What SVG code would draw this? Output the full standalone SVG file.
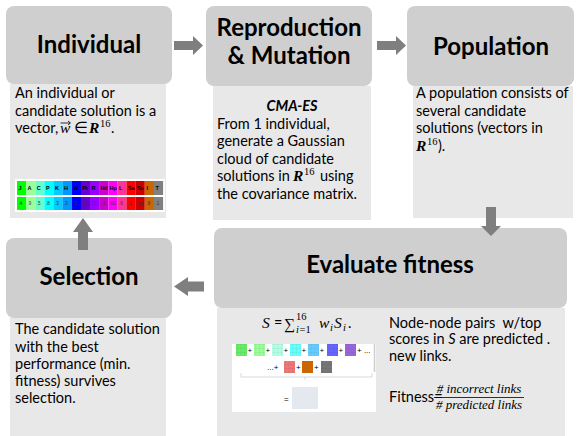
<svg xmlns="http://www.w3.org/2000/svg" width="581" height="436" viewBox="0 0 581 436">
<defs>
<style>
.hdr{fill:#cfcfcf}
.body{fill:#e8e8e8}
.title{font-family:Lato,"Liberation Sans",sans-serif;font-weight:bold;font-size:24px;fill:#000;text-anchor:middle}
.t{font-family:Lato,"Liberation Sans",sans-serif;font-size:14.5px;fill:#000}
.m{font-family:"Liberation Serif",serif;font-style:italic;font-size:15.5px}
.mr{font-family:"Liberation Serif",serif;font-style:normal;font-size:15.5px}
.mb{font-family:"Liberation Serif",serif;font-style:italic;font-weight:bold;font-size:15.5px}
.sup{font-family:"Liberation Serif",serif;font-style:normal;font-size:10.5px}
.subi{font-family:"Liberation Serif",serif;font-style:italic;font-size:10.5px}
.arrow{fill:#7f7f7f}
.lbl{font-family:"Liberation Sans",sans-serif;font-weight:bold;font-size:5.5px;fill:#000}
.val{font-family:"Liberation Sans",sans-serif;font-size:4.5px;fill:#333}
.pl{font-family:"Liberation Sans",sans-serif;font-size:8px;fill:#000}
.frac{font-family:"Liberation Serif",serif;font-style:italic;font-size:13px;fill:#000;text-anchor:middle}
</style>
<pattern id="grid" width="3.7" height="4" patternUnits="userSpaceOnUse">
<path d="M0 0H3.7M0 0V4" stroke="#000" stroke-opacity="0.15" stroke-width="0.6" fill="none"/>
</pattern>
</defs>

<g id="individual">
<rect class="hdr" x="6" y="6" width="166" height="78" rx="8"/>
<rect class="body" x="10" y="84" width="156" height="134"/>
<text class="title" x="89" y="53">Individual</text>
<text class="t" x="15" y="98">An individual or</text>
<text class="t" x="15" y="116">candidate solution is a</text>
<text class="t" x="15" y="133">vector,</text>
<text class="m" x="60" y="133">w</text>
<text class="mr" x="74" y="133">∈</text>
<text class="mb" x="89" y="133">R</text>
<text class="sup" x="100" y="127">16</text>
<text class="t" x="111" y="133">.</text>
<path d="M60.5 123H70M68 121L70.5 123L68 125" stroke="#000" stroke-width="0.8" fill="none"/>
<rect x="15" y="179" width="150" height="33" fill="#fff"/>
<g>
<rect x="17" y="181" width="9.2" height="14" fill="#00ff00"/><rect x="17" y="197" width="9.2" height="13" fill="#00ff00"/>
<rect x="26.1" y="181" width="9.2" height="14" fill="#99ff99"/><rect x="26.1" y="197" width="9.2" height="13" fill="#99ff99"/>
<rect x="35.3" y="181" width="9.2" height="14" fill="#66ffcc"/><rect x="35.3" y="197" width="9.2" height="13" fill="#66ffcc"/>
<rect x="44.4" y="181" width="9.2" height="14" fill="#00ffff"/><rect x="44.4" y="197" width="9.2" height="13" fill="#00ffff"/>
<rect x="53.5" y="181" width="9.2" height="14" fill="#00ccff"/><rect x="53.5" y="197" width="9.2" height="13" fill="#00ccff"/>
<rect x="62.6" y="181" width="9.2" height="14" fill="#0099ff"/><rect x="62.6" y="197" width="9.2" height="13" fill="#0099ff"/>
<rect x="71.8" y="181" width="9.2" height="14" fill="#0000ff"/><rect x="71.8" y="197" width="9.2" height="13" fill="#0000ff"/>
<rect x="80.9" y="181" width="9.2" height="14" fill="#6600cc"/><rect x="80.9" y="197" width="9.2" height="13" fill="#6600cc"/>
<rect x="90" y="181" width="9.2" height="14" fill="#9900ff"/><rect x="90" y="197" width="9.2" height="13" fill="#9900ff"/>
<rect x="99.1" y="181" width="9.2" height="14" fill="#cc00cc"/><rect x="99.1" y="197" width="9.2" height="13" fill="#cc00cc"/>
<rect x="108.3" y="181" width="9.2" height="14" fill="#ff00ff"/><rect x="108.3" y="197" width="9.2" height="13" fill="#ff00ff"/>
<rect x="117.4" y="181" width="9.2" height="14" fill="#ff3399"/><rect x="117.4" y="197" width="9.2" height="13" fill="#ff3399"/>
<rect x="126.5" y="181" width="9.2" height="14" fill="#ff0000"/><rect x="126.5" y="197" width="9.2" height="13" fill="#ff0000"/>
<rect x="135.6" y="181" width="9.2" height="14" fill="#cc0000"/><rect x="135.6" y="197" width="9.2" height="13" fill="#cc0000"/>
<rect x="144.8" y="181" width="9.2" height="14" fill="#cc6600"/><rect x="144.8" y="197" width="9.2" height="13" fill="#cc6600"/>
<rect x="153.9" y="181" width="9.2" height="14" fill="#808080"/><rect x="153.9" y="197" width="9.2" height="13" fill="#808080"/>
</g>
<text class="lbl" y="190"><tspan x="18.5">J</tspan><tspan x="27.6">A</tspan><tspan x="36.8">C</tspan><tspan x="45.9">P</tspan><tspan x="55">K</tspan><tspan x="64.1">H</tspan><tspan x="73.3">W</tspan><tspan x="82.2">Pr</tspan><tspan x="91.5">R</tspan><tspan x="100.4">Hd</tspan><tspan x="109.6">Hp</tspan><tspan x="118.9">L</tspan><tspan x="127.8">Sa</tspan><tspan x="136.9">So</tspan><tspan x="146.5">I</tspan><tspan x="155.4">T</tspan></text>
<text class="val" y="205"><tspan x="18.5">.4</tspan><tspan x="27.6">.9</tspan><tspan x="36.8">.5</tspan><tspan x="45.9">.8</tspan><tspan x="55">.3</tspan><tspan x="64.1">.3</tspan><tspan x="73.3">.2</tspan><tspan x="82.2">.6</tspan><tspan x="91.5">.7</tspan><tspan x="100.4">-.1</tspan><tspan x="109.6">.01</tspan><tspan x="118.9">.6</tspan><tspan x="127.8">.3</tspan><tspan x="136.9">.03</tspan><tspan x="146.5">.8</tspan><tspan x="155.4">.1</tspan></text>
</g>

<g id="reproduction">
<rect class="hdr" x="206" y="6" width="166" height="80" rx="8"/>
<rect class="body" x="213" y="86" width="158" height="134"/>
<text class="title" x="289" y="36">Reproduction</text>
<text class="title" x="289" y="64">&amp; Mutation</text>
<text class="t" x="292" y="111" text-anchor="middle" font-weight="bold" font-style="italic">CMA-ES</text>
<text class="t" x="217" y="129">From 1 individual,</text>
<text class="t" x="217" y="146">generate a Gaussian</text>
<text class="t" x="217" y="164">cloud of candidate</text>
<text class="t" x="217" y="181">solutions in</text>
<text class="mb" x="293" y="181">R</text>
<text class="sup" x="304" y="175">16</text>
<text class="t" x="320" y="181">using</text>
<text class="t" x="217" y="199">the covariance matrix.</text>
</g>

<g id="population">
<rect class="hdr" x="407" y="6" width="167" height="80" rx="8"/>
<rect class="body" x="413" y="86" width="160" height="132"/>
<text class="title" x="491" y="55">Population</text>
<text class="t" x="416" y="98">A population consists of</text>
<text class="t" x="416" y="116">several candidate</text>
<text class="t" x="416" y="133">solutions (vectors in</text>
<text class="mb" x="416" y="151">R</text>
<text class="sup" x="427" y="145">16</text>
<text class="t" x="438" y="151">).</text>
</g>

<g id="evaluate">
<rect class="hdr" x="214" y="228" width="353" height="80" rx="8"/>
<rect class="body" x="217" y="308" width="348" height="128"/>
<text class="title" x="390" y="273">Evaluate fitness</text>
<text class="m" x="262" y="328">S</text>
<text class="t" x="274" y="328">=</text>
<text class="mr" x="284" y="329" font-size="18px">∑</text>
<text class="sup" x="296" y="320">16</text>
<text class="subi" x="296" y="333">i</text>
<text class="sup" x="299.5" y="333">=1</text>
<text class="m" x="319" y="328">w</text>
<text class="subi" x="330" y="331">i</text>
<text class="m" x="334" y="328">S</text>
<text class="subi" x="343" y="331">i</text>
<text class="t" x="348" y="328">.</text>
<rect x="232" y="344" width="144" height="68" fill="#fff"/>
<g>
<rect x="236" y="344" width="11" height="12" fill="#66ee66"/>
<rect x="254" y="344" width="11" height="12" fill="#99ff99"/>
<rect x="272" y="344" width="11" height="12" fill="#b3ffe6"/>
<rect x="290" y="344" width="11" height="12" fill="#66ffff"/>
<rect x="308" y="344" width="11" height="12" fill="#66ccff"/>
<rect x="327" y="344" width="11" height="12" fill="#6666ff"/>
<rect x="345" y="344" width="11" height="12" fill="#9966dd"/>
<rect x="284" y="361" width="11" height="12" fill="#ee7777"/>
<rect x="302" y="361" width="11" height="12" fill="#cc6600"/>
<rect x="321" y="361" width="11" height="12" fill="#777777"/>
<rect x="236" y="344" width="11" height="12" fill="url(#grid)"/>
<rect x="254" y="344" width="11" height="12" fill="url(#grid)"/>
<rect x="272" y="344" width="11" height="12" fill="url(#grid)"/>
<rect x="290" y="344" width="11" height="12" fill="url(#grid)"/>
<rect x="308" y="344" width="11" height="12" fill="url(#grid)"/>
<rect x="327" y="344" width="11" height="12" fill="url(#grid)"/>
<rect x="345" y="344" width="11" height="12" fill="url(#grid)"/>
<rect x="284" y="361" width="11" height="12" fill="url(#grid)"/>
<rect x="321" y="361" width="11" height="12" fill="url(#grid)"/>
</g>
<text class="pl" y="353"><tspan x="247.5">+</tspan><tspan x="265.5">+</tspan><tspan x="283.5">+</tspan><tspan x="301.5">+</tspan><tspan x="319.5">+</tspan><tspan x="338.5">+</tspan><tspan x="357">+ ...</tspan></text>
<text class="pl" y="370"><tspan x="267">...+</tspan><tspan x="296">+</tspan><tspan x="314">+</tspan></text>
<path d="M374.5 344V372" stroke="#ccc" stroke-width="1.5"/>
<path d="M241 373V377H372V373M305 377V380" stroke="#c0c8d4" stroke-width="0.7" fill="none"/>
<text class="pl" x="284" y="402" font-size="7">=</text>
<rect x="292" y="387" width="26" height="22" fill="#e4e9f0"/>
<text class="t" x="389" y="328" style="white-space:pre">Node-node pairs  w/top</text>
<text class="t" x="389" y="344" style="white-space:pre">scores in <tspan font-style="italic">S</tspan> are predicted .</text>
<text class="t" x="389" y="361">new links.</text>
<text class="t" x="389" y="402">Fitness=</text>
<text class="frac" x="479" y="393"># incorrect links</text>
<path d="M434 397.5H524" stroke="#000" stroke-width="0.8"/>
<text class="frac" x="479" y="409"># predicted links</text>
</g>

<g id="selection">
<rect class="hdr" x="6" y="238" width="166" height="80" rx="8"/>
<rect class="body" x="10" y="318" width="156" height="118"/>
<text class="title" x="89" y="285">Selection</text>
<text class="t" x="15" y="334">The candidate solution</text>
<text class="t" x="15" y="352">with the best</text>
<text class="t" x="15" y="369">performance (min.</text>
<text class="t" x="15" y="386">fitness) survives</text>
<text class="t" x="15" y="403">selection.</text>
</g>

<g id="connectors">
<polygon class="arrow" points="174,41 193,41 193,36 203,45.5 193,55 193,50 174,50"/>
<polygon class="arrow" points="377,41 396,41 396,36 406,45.5 396,55 396,50 377,50"/>
<polygon class="arrow" points="486,207 496,207 496,226 501,226 491,236 481,226 486,226"/>
<polygon class="arrow" points="204,281.5 188,281.5 188,277 174,286.5 188,296 188,291.5 204,291.5"/>
<polygon class="arrow" points="78,250 88,250 88,232 93,232 83,218 73,232 78,232"/>
</g>
</svg>
